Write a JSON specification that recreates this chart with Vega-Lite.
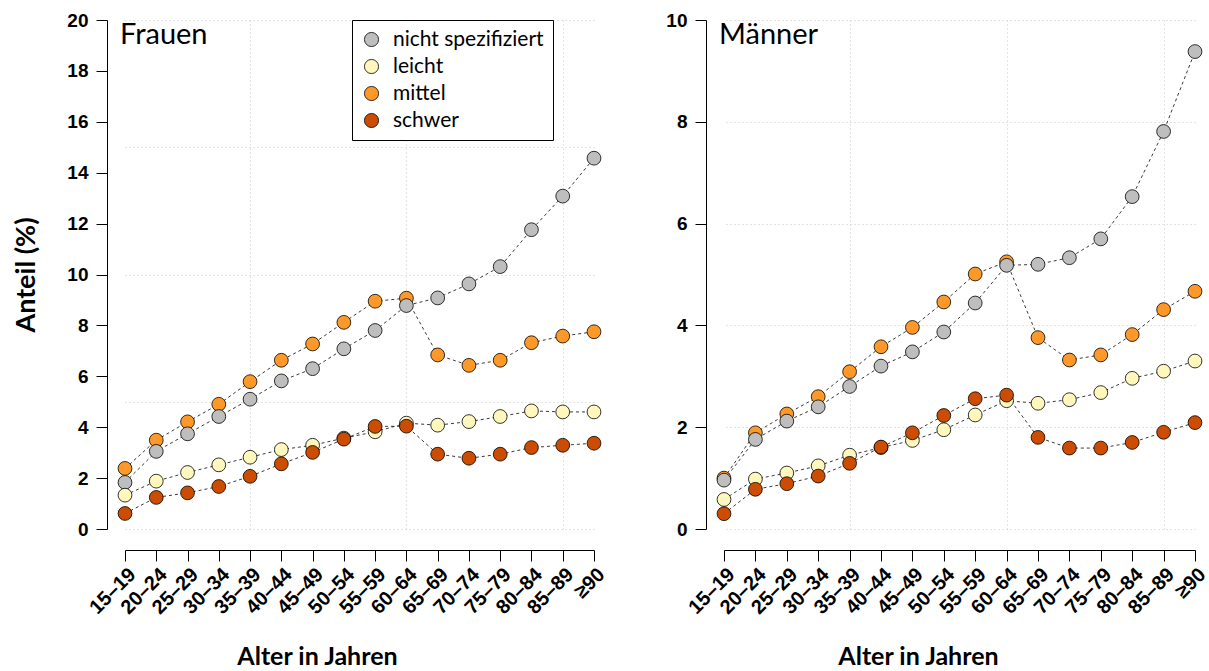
{
  "$schema": "https://vega.github.io/schema/vega-lite/v6.json",
  "background": "white",
  "padding": {"left": 12, "top": 11, "right": 0, "bottom": 0},
  "config": {
    "view": {"stroke": null},
    "axis": {"labelFont": "Liberation Sans", "labelFontWeight": "bold", "labelColor": "black", "domainColor": "black", "tickColor": "black", "domainWidth": 1, "tickWidth": 1, "titleColor": "black", "titleFont": "Lato", "titleFontWeight": "bold", "titleFontSize": 25}
  },
  "datasets": {
    "frauen": [
      {"alter": "15–19", "grad": "mittel", "anteil": 2.38}, {"alter": "20–24", "grad": "mittel", "anteil": 3.49}, {"alter": "25–29", "grad": "mittel", "anteil": 4.21}, {"alter": "30–34", "grad": "mittel", "anteil": 4.90}, {"alter": "35–39", "grad": "mittel", "anteil": 5.79}, {"alter": "40–44", "grad": "mittel", "anteil": 6.63}, {"alter": "45–49", "grad": "mittel", "anteil": 7.27}, {"alter": "50–54", "grad": "mittel", "anteil": 8.12}, {"alter": "55–59", "grad": "mittel", "anteil": 8.95}, {"alter": "60–64", "grad": "mittel", "anteil": 9.07}, {"alter": "65–69", "grad": "mittel", "anteil": 6.84}, {"alter": "70–74", "grad": "mittel", "anteil": 6.43}, {"alter": "75–79", "grad": "mittel", "anteil": 6.63}, {"alter": "80–84", "grad": "mittel", "anteil": 7.32}, {"alter": "85–89", "grad": "mittel", "anteil": 7.58}, {"alter": "≥90", "grad": "mittel", "anteil": 7.75},
      {"alter": "15–19", "grad": "nicht spezifiziert", "anteil": 1.83}, {"alter": "20–24", "grad": "nicht spezifiziert", "anteil": 3.05}, {"alter": "25–29", "grad": "nicht spezifiziert", "anteil": 3.74}, {"alter": "30–34", "grad": "nicht spezifiziert", "anteil": 4.42}, {"alter": "35–39", "grad": "nicht spezifiziert", "anteil": 5.10}, {"alter": "40–44", "grad": "nicht spezifiziert", "anteil": 5.82}, {"alter": "45–49", "grad": "nicht spezifiziert", "anteil": 6.30}, {"alter": "50–54", "grad": "nicht spezifiziert", "anteil": 7.08}, {"alter": "55–59", "grad": "nicht spezifiziert", "anteil": 7.80}, {"alter": "60–64", "grad": "nicht spezifiziert", "anteil": 8.78}, {"alter": "65–69", "grad": "nicht spezifiziert", "anteil": 9.08}, {"alter": "70–74", "grad": "nicht spezifiziert", "anteil": 9.63}, {"alter": "75–79", "grad": "nicht spezifiziert", "anteil": 10.31}, {"alter": "80–84", "grad": "nicht spezifiziert", "anteil": 11.76}, {"alter": "85–89", "grad": "nicht spezifiziert", "anteil": 13.08}, {"alter": "≥90", "grad": "nicht spezifiziert", "anteil": 14.57},
      {"alter": "15–19", "grad": "leicht", "anteil": 1.33}, {"alter": "20–24", "grad": "leicht", "anteil": 1.88}, {"alter": "25–29", "grad": "leicht", "anteil": 2.22}, {"alter": "30–34", "grad": "leicht", "anteil": 2.52}, {"alter": "35–39", "grad": "leicht", "anteil": 2.82}, {"alter": "40–44", "grad": "leicht", "anteil": 3.12}, {"alter": "45–49", "grad": "leicht", "anteil": 3.29}, {"alter": "50–54", "grad": "leicht", "anteil": 3.57}, {"alter": "55–59", "grad": "leicht", "anteil": 3.82}, {"alter": "60–64", "grad": "leicht", "anteil": 4.16}, {"alter": "65–69", "grad": "leicht", "anteil": 4.08}, {"alter": "70–74", "grad": "leicht", "anteil": 4.22}, {"alter": "75–79", "grad": "leicht", "anteil": 4.42}, {"alter": "80–84", "grad": "leicht", "anteil": 4.64}, {"alter": "85–89", "grad": "leicht", "anteil": 4.60}, {"alter": "≥90", "grad": "leicht", "anteil": 4.60},
      {"alter": "15–19", "grad": "schwer", "anteil": 0.61}, {"alter": "20–24", "grad": "schwer", "anteil": 1.24}, {"alter": "25–29", "grad": "schwer", "anteil": 1.42}, {"alter": "30–34", "grad": "schwer", "anteil": 1.67}, {"alter": "35–39", "grad": "schwer", "anteil": 2.07}, {"alter": "40–44", "grad": "schwer", "anteil": 2.56}, {"alter": "45–49", "grad": "schwer", "anteil": 3.01}, {"alter": "50–54", "grad": "schwer", "anteil": 3.53}, {"alter": "55–59", "grad": "schwer", "anteil": 4.03}, {"alter": "60–64", "grad": "schwer", "anteil": 4.04}, {"alter": "65–69", "grad": "schwer", "anteil": 2.94}, {"alter": "70–74", "grad": "schwer", "anteil": 2.78}, {"alter": "75–79", "grad": "schwer", "anteil": 2.94}, {"alter": "80–84", "grad": "schwer", "anteil": 3.20}, {"alter": "85–89", "grad": "schwer", "anteil": 3.29}, {"alter": "≥90", "grad": "schwer", "anteil": 3.37}
    ],
    "maenner": [
      {"alter": "15–19", "grad": "mittel", "anteil": 1.00}, {"alter": "20–24", "grad": "mittel", "anteil": 1.89}, {"alter": "25–29", "grad": "mittel", "anteil": 2.26}, {"alter": "30–34", "grad": "mittel", "anteil": 2.60}, {"alter": "35–39", "grad": "mittel", "anteil": 3.09}, {"alter": "40–44", "grad": "mittel", "anteil": 3.58}, {"alter": "45–49", "grad": "mittel", "anteil": 3.96}, {"alter": "50–54", "grad": "mittel", "anteil": 4.46}, {"alter": "55–59", "grad": "mittel", "anteil": 5.01}, {"alter": "60–64", "grad": "mittel", "anteil": 5.25}, {"alter": "65–69", "grad": "mittel", "anteil": 3.76}, {"alter": "70–74", "grad": "mittel", "anteil": 3.32}, {"alter": "75–79", "grad": "mittel", "anteil": 3.42}, {"alter": "80–84", "grad": "mittel", "anteil": 3.82}, {"alter": "85–89", "grad": "mittel", "anteil": 4.31}, {"alter": "≥90", "grad": "mittel", "anteil": 4.67},
      {"alter": "15–19", "grad": "nicht spezifiziert", "anteil": 0.96}, {"alter": "20–24", "grad": "nicht spezifiziert", "anteil": 1.76}, {"alter": "25–29", "grad": "nicht spezifiziert", "anteil": 2.12}, {"alter": "30–34", "grad": "nicht spezifiziert", "anteil": 2.40}, {"alter": "35–39", "grad": "nicht spezifiziert", "anteil": 2.80}, {"alter": "40–44", "grad": "nicht spezifiziert", "anteil": 3.20}, {"alter": "45–49", "grad": "nicht spezifiziert", "anteil": 3.48}, {"alter": "50–54", "grad": "nicht spezifiziert", "anteil": 3.87}, {"alter": "55–59", "grad": "nicht spezifiziert", "anteil": 4.44}, {"alter": "60–64", "grad": "nicht spezifiziert", "anteil": 5.18}, {"alter": "65–69", "grad": "nicht spezifiziert", "anteil": 5.20}, {"alter": "70–74", "grad": "nicht spezifiziert", "anteil": 5.33}, {"alter": "75–79", "grad": "nicht spezifiziert", "anteil": 5.70}, {"alter": "80–84", "grad": "nicht spezifiziert", "anteil": 6.53}, {"alter": "85–89", "grad": "nicht spezifiziert", "anteil": 7.81}, {"alter": "≥90", "grad": "nicht spezifiziert", "anteil": 9.38},
      {"alter": "15–19", "grad": "leicht", "anteil": 0.58}, {"alter": "20–24", "grad": "leicht", "anteil": 0.98}, {"alter": "25–29", "grad": "leicht", "anteil": 1.10}, {"alter": "30–34", "grad": "leicht", "anteil": 1.24}, {"alter": "35–39", "grad": "leicht", "anteil": 1.45}, {"alter": "40–44", "grad": "leicht", "anteil": 1.60}, {"alter": "45–49", "grad": "leicht", "anteil": 1.74}, {"alter": "50–54", "grad": "leicht", "anteil": 1.95}, {"alter": "55–59", "grad": "leicht", "anteil": 2.24}, {"alter": "60–64", "grad": "leicht", "anteil": 2.52}, {"alter": "65–69", "grad": "leicht", "anteil": 2.47}, {"alter": "70–74", "grad": "leicht", "anteil": 2.54}, {"alter": "75–79", "grad": "leicht", "anteil": 2.68}, {"alter": "80–84", "grad": "leicht", "anteil": 2.96}, {"alter": "85–89", "grad": "leicht", "anteil": 3.10}, {"alter": "≥90", "grad": "leicht", "anteil": 3.30},
      {"alter": "15–19", "grad": "schwer", "anteil": 0.30}, {"alter": "20–24", "grad": "schwer", "anteil": 0.78}, {"alter": "25–29", "grad": "schwer", "anteil": 0.89}, {"alter": "30–34", "grad": "schwer", "anteil": 1.04}, {"alter": "35–39", "grad": "schwer", "anteil": 1.29}, {"alter": "40–44", "grad": "schwer", "anteil": 1.61}, {"alter": "45–49", "grad": "schwer", "anteil": 1.89}, {"alter": "50–54", "grad": "schwer", "anteil": 2.23}, {"alter": "55–59", "grad": "schwer", "anteil": 2.56}, {"alter": "60–64", "grad": "schwer", "anteil": 2.63}, {"alter": "65–69", "grad": "schwer", "anteil": 1.80}, {"alter": "70–74", "grad": "schwer", "anteil": 1.59}, {"alter": "75–79", "grad": "schwer", "anteil": 1.59}, {"alter": "80–84", "grad": "schwer", "anteil": 1.70}, {"alter": "85–89", "grad": "schwer", "anteil": 1.90}, {"alter": "≥90", "grad": "schwer", "anteil": 2.09}
    ]
  },
  "spacing": 56,
  "resolve": {"legend": {"color": "independent"}},
  "hconcat": [
    {
      "width": 469,
      "height": 509,
      "resolve": {"axis": {"x": "independent", "y": "independent"}},
      "layer": [
        {
          "data": {"name": "frauen"},
          "mark": {"type": "line", "strokeDash": [3, 3], "strokeWidth": 0.9, "color": "#222222"},
          "encoding": {
            "x": {"field": "alter", "type": "ordinal", "sort": ["15–19","20–24","25–29","30–34","35–39","40–44","45–49","50–54","55–59","60–64","65–69","70–74","75–79","80–84","85–89","≥90"], "scale": {"type": "point", "padding": 0},
              "axis": {"orient": "top", "values": ["35–39","60–64","85–89"], "grid": true, "labels": false, "ticks": false, "domain": false, "title": null, "gridColor": "#c8c8c8", "gridDash": [1, 3], "gridWidth": 1}},
            "y": {"field": "anteil", "type": "quantitative", "scale": {"domain": [0, 20], "nice": false},
              "axis": {"orient": "right", "values": [0, 5, 10, 15, 20], "grid": true, "labels": false, "ticks": false, "domain": false, "title": null, "gridColor": "#c8c8c8", "gridDash": [1, 3], "gridWidth": 1}},
            "detail": {"field": "grad"}
          }
        },
        {
          "data": {"name": "frauen"},
          "mark": {"type": "point", "filled": true, "size": 190, "stroke": "black", "strokeWidth": 0.8, "opacity": 1},
          "encoding": {
            "x": {"field": "alter", "type": "ordinal", "sort": ["15–19","20–24","25–29","30–34","35–39","40–44","45–49","50–54","55–59","60–64","65–69","70–74","75–79","80–84","85–89","≥90"],
              "axis": {"offset": 21, "tickSize": 11, "labelAngle": -45, "labelFontSize": 20, "labelPadding": 3, "grid": false, "title": "Alter in Jahren", "titlePadding": 27, "titleX": 192}},
            "y": {"field": "anteil", "type": "quantitative",
              "axis": {"offset": 18, "values": [0, 2, 4, 6, 8, 10, 12, 14, 16, 18, 20], "tickSize": 11, "labelPadding": 8, "labelFontSize": 19, "grid": false, "title": "Anteil (%)", "titlePadding": 26, "titleFontSize": 27}},
            "color": {"field": "grad", "type": "nominal",
              "scale": {"domain": ["nicht spezifiziert", "leicht", "mittel", "schwer"], "range": ["#BEBEBE", "#FFF7BC", "#FE9929", "#CC4C02"]},
              "legend": {"orient": "none", "legendX": 227, "legendY": 0, "title": null, "strokeColor": "black", "fillColor": "white", "padding": 9, "symbolType": "circle", "symbolSize": 200, "symbolStrokeColor": "black", "symbolStrokeWidth": 0.8, "labelFont": "Lato", "labelFontSize": 21, "labelColor": "black", "labelOffset": 11, "rowPadding": 5}}
          }
        },
        {
          "data": {"values": [{"label": "Frauen"}]},
          "mark": {"type": "text", "align": "left", "baseline": "alphabetic", "font": "Lato", "fontSize": 29, "color": "black", "dx": -5},
          "encoding": {
            "x": {"datum": "15–19", "type": "ordinal", "axis": null},
            "y": {"datum": 19.06, "type": "quantitative", "axis": null},
            "text": {"field": "label"}
          }
        }
      ]
    },
    {
      "width": 471,
      "height": 509,
      "resolve": {"axis": {"x": "independent", "y": "independent"}},
      "layer": [
        {
          "data": {"name": "maenner"},
          "mark": {"type": "line", "strokeDash": [3, 3], "strokeWidth": 0.9, "color": "#222222"},
          "encoding": {
            "x": {"field": "alter", "type": "ordinal", "sort": ["15–19","20–24","25–29","30–34","35–39","40–44","45–49","50–54","55–59","60–64","65–69","70–74","75–79","80–84","85–89","≥90"], "scale": {"type": "point", "padding": 0},
              "axis": {"orient": "top", "values": ["35–39","60–64","85–89"], "grid": true, "labels": false, "ticks": false, "domain": false, "title": null, "gridColor": "#c8c8c8", "gridDash": [1, 3], "gridWidth": 1}},
            "y": {"field": "anteil", "type": "quantitative", "scale": {"domain": [0, 10], "nice": false},
              "axis": {"orient": "right", "values": [0, 2, 4, 6, 8, 10], "grid": true, "labels": false, "ticks": false, "domain": false, "title": null, "gridColor": "#c8c8c8", "gridDash": [1, 3], "gridWidth": 1}},
            "detail": {"field": "grad"}
          }
        },
        {
          "data": {"name": "maenner"},
          "mark": {"type": "point", "filled": true, "size": 190, "stroke": "black", "strokeWidth": 0.8, "opacity": 1},
          "encoding": {
            "x": {"field": "alter", "type": "ordinal", "sort": ["15–19","20–24","25–29","30–34","35–39","40–44","45–49","50–54","55–59","60–64","65–69","70–74","75–79","80–84","85–89","≥90"],
              "axis": {"offset": 21, "tickSize": 11, "labelAngle": -45, "labelFontSize": 20, "labelPadding": 3, "grid": false, "title": "Alter in Jahren", "titlePadding": 27, "titleX": 194}},
            "y": {"field": "anteil", "type": "quantitative",
              "axis": {"offset": 18, "values": [0, 2, 4, 6, 8, 10], "tickSize": 11, "labelPadding": 8, "labelFontSize": 19, "grid": false, "title": null}},
            "color": {"field": "grad", "type": "nominal",
              "scale": {"domain": ["nicht spezifiziert", "leicht", "mittel", "schwer"], "range": ["#BEBEBE", "#FFF7BC", "#FE9929", "#CC4C02"]},
              "legend": null}
          }
        },
        {
          "data": {"values": [{"label": "Männer"}]},
          "mark": {"type": "text", "align": "left", "baseline": "alphabetic", "font": "Lato", "fontSize": 29, "color": "black", "dx": -5},
          "encoding": {
            "x": {"datum": "15–19", "type": "ordinal", "axis": null},
            "y": {"datum": 9.53, "type": "quantitative", "axis": null},
            "text": {"field": "label"}
          }
        }
      ]
    }
  ]
}
